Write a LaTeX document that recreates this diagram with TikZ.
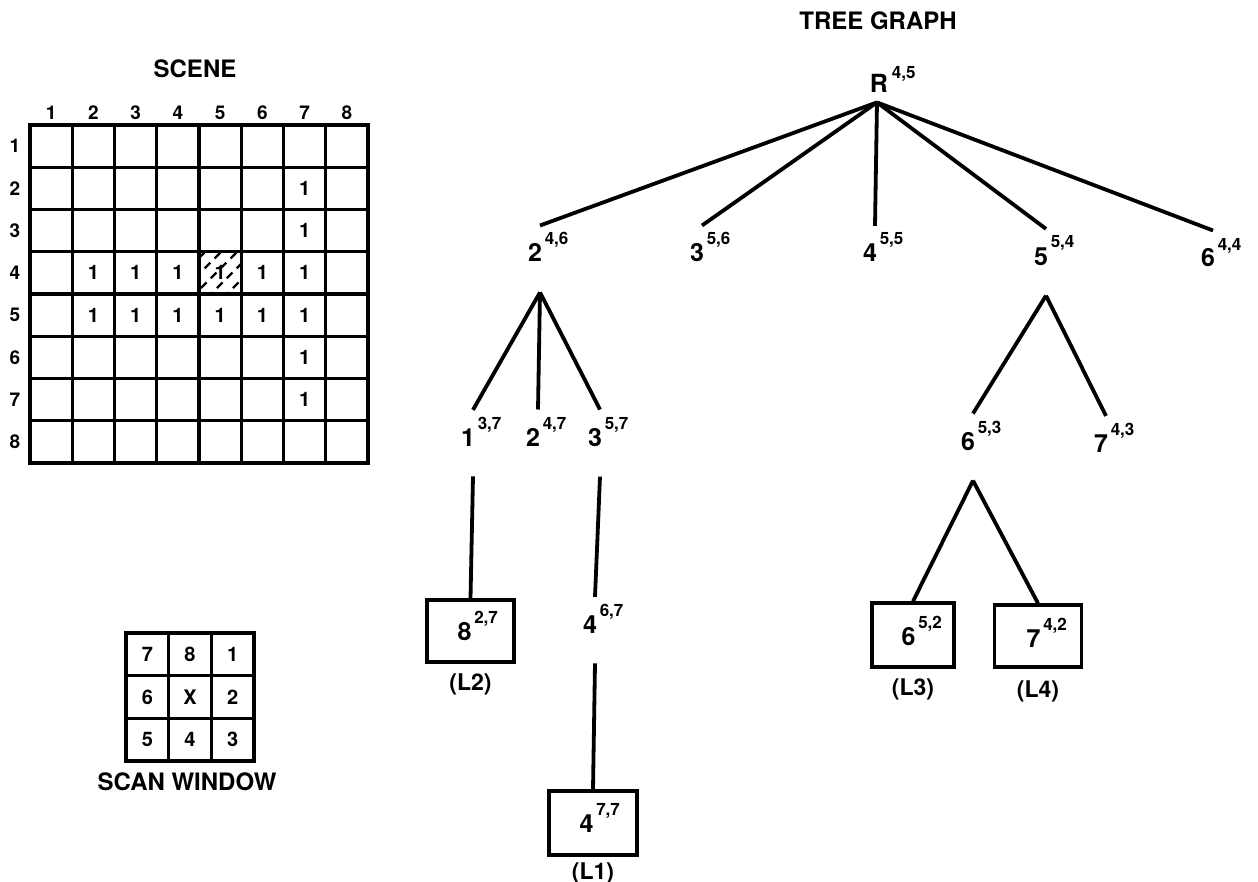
\documentclass[tikz,border=0pt]{standalone}
\usepackage{fontspec}
\setmainfont{TeX Gyre Heros}
\usetikzlibrary{positioning}

\newcommand\fs[1]{\fontsize{#1}{#1}\selectfont\bfseries}
\def\cs{42.25}  % scene cell
\def\ws{42.7}   % window cell

\tikzset{
  gridline/.style={line width=1.7pt, line cap=rect},
  hatch/.style   ={line width=1.1pt, dash pattern=on 4pt off 3pt},
  idx/.style     ={font=\fs{9.5}, inner sep=0pt},
  bit/.style     ={font=\fs{10}, inner sep=0pt},
  heading/.style ={font=\fs{12}, inner sep=0pt},
  vtx/.style     ={font=\fs{12.5}, inner sep=0pt, anchor=base},
  supx/.style    ={font=\fs{8.5}, inner sep=0pt, anchor=base west},
  branch/.style  ={line width=1.9pt},
  leaf/.style    ={draw, line width=1.7pt, inner sep=0pt,
                   minimum width=43.5pt, minimum height=31pt},
  tag/.style     ={font=\fs{11.5}, inner sep=0pt},
}

% digit + its coordinate pair, and the points where branches meet it
\newcommand\vertex[4]{%
  \node[vtx] (#1) at (#2) {#3};
  \node[supx] (#1-s) at ([shift={(1pt,8.5pt)}]#1.base east) {#4};
  \coordinate (#1-in)  at ([shift={(2.5pt,9pt)}]#1.north);
  \coordinate (#1-out) at ([shift={(2.5pt,-15pt)}]#1.south);}

\begin{document}
\begin{tikzpicture}[x=0.5pt, y=-0.5pt]
\useasboundingbox (0,0) rectangle (1258,882);

% --- titles ---
\node[heading] (scene) at (195,69)  {SCENE};
\node[heading] (tree)  at (878,21)  {TREE GRAPH};
\node[heading] (scan)  at (187,782) {SCAN WINDOW};

% --- scene: 8x8 grid ---
\begin{scope}
  \clip (30+4*\cs,125+3*\cs) rectangle ++(\cs,\cs);
  \foreach \k in {0,...,5}
    \draw[hatch] (30+4*\cs-40+\k*16,125+4*\cs+4) -- ++(50,-50);
\end{scope}
\foreach \i in {0,...,8} {
  \draw[gridline] (30+\i*\cs,125) -- (30+\i*\cs,125+8*\cs);
  \draw[gridline] (30,125+\i*\cs) -- (30+8*\cs,125+\i*\cs);
}
\foreach \c in {1,...,8} {
  \node[idx] (col\c) at (30+\c*\cs-\cs/2,113) {\c};
  \node[idx] (row\c) at (15,125+\c*\cs-\cs/2) {\c};
}
\foreach \r/\c in {2/7, 3/7, 4/2, 4/3, 4/4, 4/5, 4/6, 4/7,
                   5/2, 5/3, 5/4, 5/5, 5/6, 5/7, 6/7, 7/7}
  \node[bit] (s\r\c) at (30+\c*\cs-\cs/2,125+\r*\cs-\cs/2) {1};

% --- scan window ---
\foreach \i in {0,...,3} {
  \draw[gridline] (126+\i*\ws,633) -- (126+\i*\ws,633+3*\ws);
  \draw[gridline] (126,633+\i*\ws) -- (126+3*\ws,633+\i*\ws);
}
\foreach \r/\c/\t in {1/1/7, 1/2/8, 1/3/1, 2/1/6, 2/2/X, 2/3/2,
                      3/1/5, 3/2/4, 3/3/3}
  \node[bit] (w\r\c) at (126+\c*\ws-\ws/2,633+\r*\ws-\ws/2) {\t};

% --- tree: root and first level ---
\node[vtx] (R) at (879,93) {R};
\node[supx] (R-s) at ([shift={(1.5pt,7pt)}]R.base east) {4,5};
\coordinate (R-out) at ([shift={(-1pt,-4.5pt)}]R.south);

\vertex{a2}{535,262}{2}{4,6}
\vertex{a3}{697,262}{3}{5,6}
\vertex{a4}{870,262}{4}{5,5}
\vertex{a5}{1041,265}{5}{5,4}
\vertex{a6}{1208,267}{6}{4,4}
\foreach \v in {a2, a3, a4, a5, a6}
  \draw[branch] (R-out) -- (\v-in);

% --- second level ---
\vertex{b1}{468,446}{1}{3,7}
\vertex{b2}{533,446}{2}{4,7}
\vertex{b3}{595,446}{3}{5,7}
\foreach \v in {b1, b2, b3}
  \draw[branch] (a2-out) -- (\v-in);

\vertex{c6}{968,450}{6}{5,3}
\vertex{c7}{1101,452}{7}{4,3}
\foreach \v in {c6, c7}
  \draw[branch] (a5-out) -- (\v-in);

\vertex{b4}{590,633}{4}{6,7}
\draw[branch] (b3-out) -- (b4-in);

% --- leaves ---
\node[leaf] (L2) at (470.5,631) {};
\vertex{l8}{464.5,640}{8}{2,7}
\node[leaf, minimum width=44pt, minimum height=32pt] (L1) at (593,823) {};
\vertex{l4}{586.5,832}{4}{7,7}
\node[leaf, minimum width=41pt, minimum height=32pt] (L3) at (913,635) {};
\vertex{l6}{908.5,645}{6}{5,2}
\node[leaf] (L4) at (1038,636) {};
\vertex{l7}{1033.5,647}{7}{4,2}

\draw[branch] (b1-out) -- (L2.north);
\draw[branch] (b4-out) -- (L1.north);
\draw[branch] (c6-out) -- (L3.north);
\draw[branch] (c6-out) -- (L4.north);

\node[tag, below=5pt of L2] (L2-t) {(L2)};
\node[tag, below=3pt of L1] (L1-t) {(L1)};
\node[tag, below=5pt of L3] (L3-t) {(L3)};
\node[tag, below=6pt of L4] (L4-t) {(L4)};

\end{tikzpicture}
\end{document}
